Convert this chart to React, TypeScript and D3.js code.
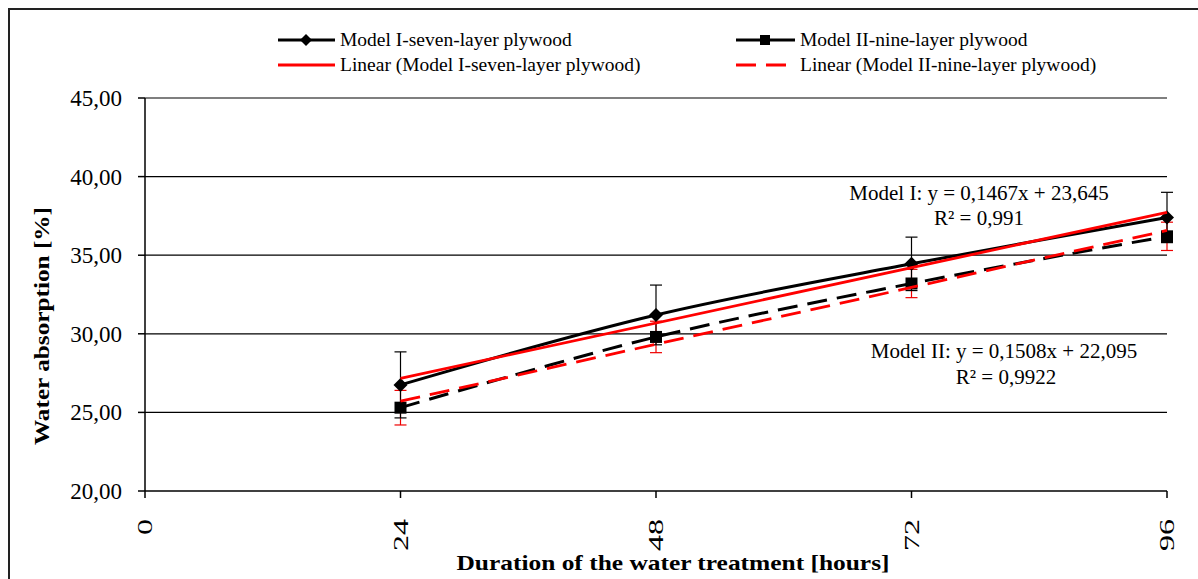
import React from "react";
import * as d3 from "d3";

const hours = [24, 48, 72, 96];
const model1 = [26.75, 31.2, 34.45, 37.4];
const model1Err = [2.1, 1.9, 1.7, 1.6];
const model2 = [25.3, 29.8, 33.2, 36.2];
const model2Err = [1.1, 1.0, 0.9, 0.9];
const trend1 = { slope: 0.1467, intercept: 23.645 };
const trend2 = { slope: 0.1508, intercept: 22.095 };
const xTicks = [0, 24, 48, 72, 96];
const yTicks = [20, 25, 30, 35, 40, 45];

const FONT = "'Liberation Serif', 'Times New Roman', serif";

export default function App() {
  const width = 1198, height = 579;
  const x = d3.scaleLinear().domain([0, 96]).range([145, 1167]);
  const y = d3.scaleLinear().domain([20, 45]).range([491, 98]);
  const fmt = (v: number) => v.toFixed(2).replace(".", ",");

  const smooth = d3.line<number>()
    .x((d, i) => x(hours[i]))
    .y(d => y(d))
    .curve(d3.curveCardinal.tension(0));

  const trendPath = (t: { slope: number; intercept: number }) =>
    d3.line<number>().x(h => x(h)).y(h => y(t.slope * h + t.intercept))([24, 96]) || "";

  const errBars = (vals: number[], errs: number[], color: string) =>
    vals.map((v, i) => {
      const cx = x(hours[i]);
      const y1 = y(v + errs[i]), y2 = y(v - errs[i]);
      return (
        <g key={i} stroke={color} strokeWidth={1.2}>
          <line x1={cx} x2={cx} y1={y1} y2={y2} />
          <line x1={cx - 6} x2={cx + 6} y1={y1} y2={y1} />
          <line x1={cx - 6} x2={cx + 6} y1={y2} y2={y2} />
        </g>
      );
    });

  const diamond = (cx: number, cy: number, s: number, key?: any) => (
    <path key={key} d={`M${cx},${cy - s}L${cx + s},${cy}L${cx},${cy + s}L${cx - s},${cy}Z`} fill="#000" />
  );
  const square = (cx: number, cy: number, s: number, key?: any) => (
    <rect key={key} x={cx - s} y={cy - s} width={2 * s} height={2 * s} fill="#000" />
  );

  return (
    <svg width={width} height={height} style={{ position: "absolute", left: 0, top: 0, background: "#fff" }}>
      <rect x={9} y={9} width={1200} height={600} fill="#fff" stroke="#222" strokeWidth={2} />

      {/* gridlines */}
      {yTicks.slice(1).map(t => (
        <line key={t} x1={x(0)} x2={x(96)} y1={y(t)} y2={y(t)} stroke="#000" strokeWidth={1.2} />
      ))}

      {/* axes */}
      <line x1={x(0)} x2={x(0)} y1={y(20)} y2={y(45)} stroke="#000" strokeWidth={1.5} />
      <line x1={x(0)} x2={x(96)} y1={y(20)} y2={y(20)} stroke="#000" strokeWidth={1.5} />
      {yTicks.map(t => (
        <g key={t}>
          <line x1={x(0) - 7} x2={x(0)} y1={y(t)} y2={y(t)} stroke="#000" strokeWidth={1.5} />
          <text x={122} y={y(t) + 8} textAnchor="end" fontFamily={FONT} fontSize={23}>{fmt(t)}</text>
        </g>
      ))}
      {xTicks.map(t => (
        <g key={t}>
          <line x1={x(t)} x2={x(t)} y1={y(20)} y2={y(20) + 7} stroke="#000" strokeWidth={1.5} />
          <text transform={`translate(${x(t) + 7},519) rotate(-90)`} textAnchor="end" fontFamily={FONT}
            fontSize={21} textLength={String(t).length * 16} lengthAdjust="spacingAndGlyphs">{t}</text>
        </g>
      ))}

      <text x={673} y={570} textAnchor="middle" fontFamily={FONT} fontSize={22} fontWeight="bold"
        textLength={433} lengthAdjust="spacingAndGlyphs">Duration of the water treatment [hours]</text>
      <text transform="translate(49,326) rotate(-90)" textAnchor="middle" fontFamily={FONT} fontSize={22}
        fontWeight="bold" textLength={238} lengthAdjust="spacingAndGlyphs">Water absorption [%]</text>

      {/* error bars */}
      {errBars(model2, model2Err, "#e00")}
      {errBars(model1, model1Err, "#000")}

      {/* series */}
      <path d={smooth(model1) || ""} fill="none" stroke="#000" strokeWidth={3} />
      <path d={smooth(model2) || ""} fill="none" stroke="#000" strokeWidth={3} strokeDasharray="20,10" />
      {model1.map((v, i) => diamond(x(hours[i]), y(v), 7, "d" + i))}
      {model2.map((v, i) => square(x(hours[i]), y(v), 6, "s" + i))}

      {/* trendlines */}
      <path d={trendPath(trend1)} fill="none" stroke="#f00" strokeWidth={2.8} />
      <path d={trendPath(trend2)} fill="none" stroke="#f00" strokeWidth={2.8} strokeDasharray="20,10" />

      {/* equations */}
      <g fontFamily={FONT} fontSize={21} textAnchor="middle">
        <text x={979} y={200}>Model I: y = 0,1467x + 23,645</text>
        <text x={979} y={225}>R² = 0,991</text>
        <text x={1004} y={358}>Model II: y = 0,1508x + 22,095</text>
        <text x={1006} y={384}>R² = 0,9922</text>
      </g>

      {/* legend */}
      <g fontFamily={FONT} fontSize={19.5} style={{ whiteSpace: "pre" }}>
        <line x1={278} x2={335} y1={40} y2={40} stroke="#000" strokeWidth={3} />
        {diamond(306, 40, 6)}
        <text x={340} y={46}>{"Model I-seven-layer  plywood"}</text>
        <line x1={278} x2={335} y1={65} y2={65} stroke="#f00" strokeWidth={2.8} />
        <text x={340} y={71}>{"Linear (Model I-seven-layer  plywood)"}</text>
        <line x1={736} x2={795} y1={40} y2={40} stroke="#000" strokeWidth={3} />
        {square(765, 40, 5)}
        <text x={800} y={46}>{"Model II-nine-layer  plywood"}</text>
        <line x1={736} x2={795} y1={65} y2={65} stroke="#f00" strokeWidth={2.8} strokeDasharray="20,10" />
        <text x={800} y={71}>{"Linear (Model II-nine-layer  plywood)"}</text>
      </g>
    </svg>
  );
}
